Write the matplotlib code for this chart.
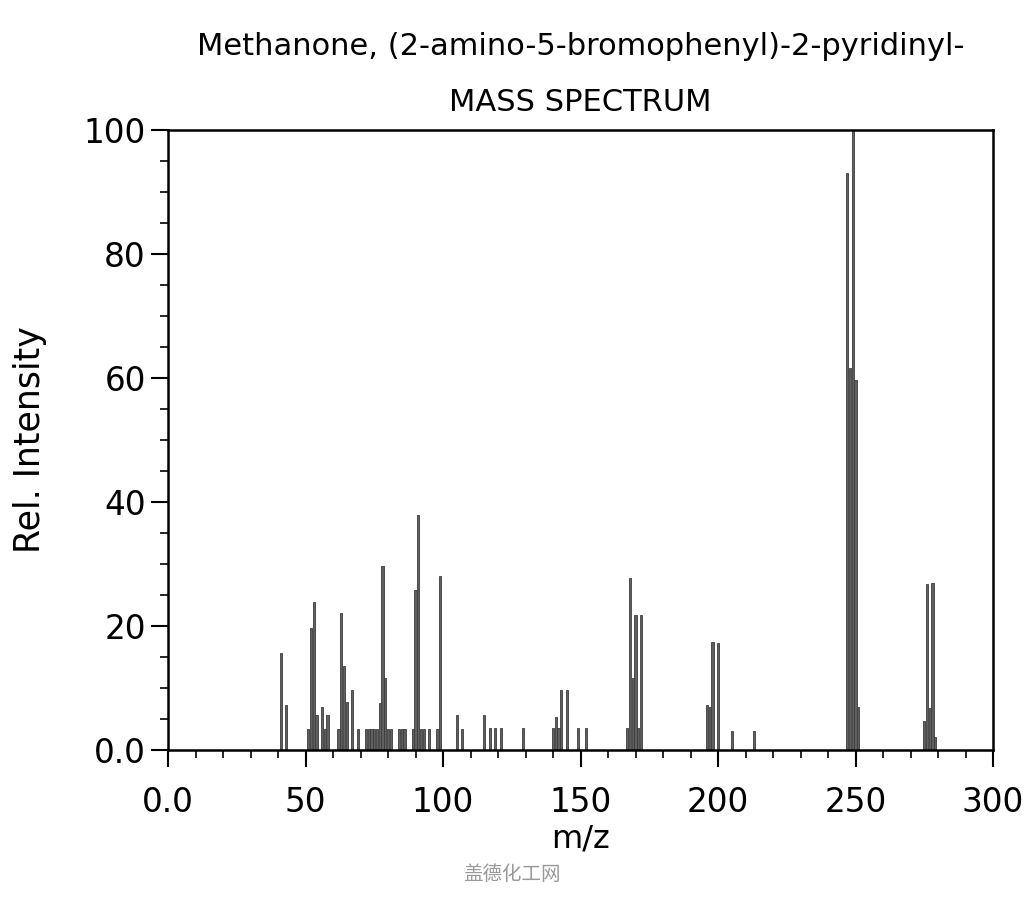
import matplotlib
matplotlib.use("Agg")
import matplotlib.pyplot as plt
from matplotlib.ticker import MultipleLocator

mz = [41, 43, 51, 52, 53, 54, 56, 57, 58, 62, 63, 64, 65, 67, 69, 72, 73, 74, 75, 76,
      77, 78, 79, 80, 81, 84, 85, 86, 89, 90, 91, 92, 93, 95, 98, 99, 105, 107,
      115, 117, 119, 121, 129, 140, 141, 142, 143, 145, 149, 152, 167, 168, 169,
      170, 171, 172, 196, 197, 198, 200, 205, 213, 247, 248, 249, 250, 251, 275,
      276, 277, 278, 279]
intensity = [15.7, 7.3, 3.4, 19.7, 23.8, 5.7, 7.0, 3.4, 5.7, 3.4, 22.1, 13.6, 7.7, 9.7,
             3.4, 3.4, 3.4, 3.4, 3.4, 3.4, 7.6, 29.7, 11.6, 3.4, 3.4, 3.4, 3.4, 3.4,
             3.4, 25.8, 37.9, 3.4, 3.4, 3.4, 3.4, 28.0, 5.6, 3.4, 5.7, 3.5, 3.5, 3.5,
             3.5, 3.5, 5.4, 3.5, 9.7, 9.7, 3.5, 3.5, 3.5, 27.8, 11.6, 21.8, 3.5, 21.8,
             7.3, 6.9, 17.5, 17.2, 3.0, 3.0, 93.0, 61.6, 100.0, 59.7, 7.0, 4.6, 26.8,
             6.7, 27.0, 2.1]

title = "Methanone, (2-amino-5-bromophenyl)-2-pyridinyl-\nMASS SPECTRUM"

fig = plt.figure(figsize=(10.24, 9.0), dpi=100)
ax = fig.add_axes([168/1024, 1-750/900, (993-168)/1024, (750-130)/900])

ax.bar(mz, intensity, width=0.85, facecolor="#606060", edgecolor="#3c3c3c", linewidth=0.6)

ax.set_xlim(0, 300)
ax.set_ylim(0, 100)
ax.xaxis.set_major_locator(MultipleLocator(50))
ax.xaxis.set_minor_locator(MultipleLocator(10))
ax.yaxis.set_major_locator(MultipleLocator(20))
ax.yaxis.set_minor_locator(MultipleLocator(5))

def fmt(v, pos):
    return "0.0" if v == 0 else f"{v:g}"
ax.xaxis.set_major_formatter(plt.FuncFormatter(fmt))
ax.yaxis.set_major_formatter(plt.FuncFormatter(fmt))

ax.tick_params(axis="both", which="major", direction="out", length=12, width=1.5,
               labelsize=23.5, colors="black")
ax.tick_params(axis="x", which="major", pad=14)
ax.tick_params(axis="y", which="major", pad=4)
ax.tick_params(axis="both", which="minor", direction="out", length=6, width=1.2)
for s in ax.spines.values():
    s.set_linewidth(1.8)

ax.set_xlabel("m/z", fontsize=23, labelpad=3)
ax.set_ylabel("Rel. Intensity", fontsize=25, labelpad=26)
ax.set_title(title, fontsize=22, pad=14, linespacing=2.15)

fig.text(0.5, 1-875/900, "盖德化工网", ha="center", va="center", fontsize=14,
         color="#999999", family=["Noto Sans CJK SC", "DejaVu Sans"])

fig.savefig("out.png", dpi=100)
